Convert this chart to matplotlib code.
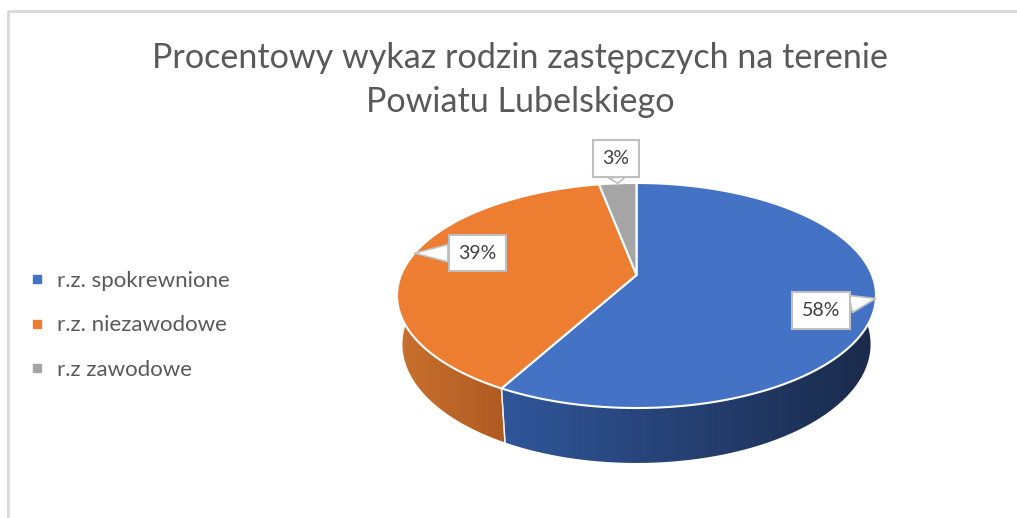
import numpy as np
import matplotlib
matplotlib.use("Agg")
import matplotlib.pyplot as plt
from matplotlib.patches import Polygon
from matplotlib.lines import Line2D
from matplotlib.colors import LinearSegmentedColormap

plt.rcParams['font.family'] = ['Lato', 'DejaVu Sans']

title = "Procentowy wykaz rodzin zastępczych na terenie\nPowiatu Lubelskiego"
categories = ["r.z. spokrewnione", "r.z. niezawodowe", "r.z zawodowe"]
values = [58, 39, 3]
top_colors = ["#4472C4", "#ED7D31", "#A5A5A5"]
side_colors = [("#30569A", "#1A2A4A"), ("#C9712F", "#B05A22"), ("#8A8A8A", "#6E6E6E")]

W, H = 1017, 518
fig = plt.figure(figsize=(W / 100, H / 100), dpi=100)
ax = fig.add_axes([0, 0, 1, 1])
ax.set_xlim(0, W)
ax.set_ylim(H, 0)
ax.axis("off")

# chart border
ax.plot([8, 8, W + 5], [H + 5, 11, 11], color="#D9D9D9", lw=2, solid_capstyle="butt")

# ---- 3D pie projection (perspective) ----
phi = np.radians(27.6)
Dcam = 4.86
box_x = (397, 876)
box_y = (183, 408)
target_depth = 55

def raw(t_deg, z=0.0):
    t = np.radians(np.asarray(t_deg, dtype=float))
    X, Y = np.cos(t), np.sin(t)
    w = Dcam + Y * np.cos(phi) - z * np.sin(phi)
    return X / w, (Y * np.sin(phi) + z * np.cos(phi)) / w

_tt = np.linspace(0, 360, 2001)
_rx, _ry = raw(_tt)
sx = (box_x[1] - box_x[0]) / (_rx.max() - _rx.min())
sy = (box_y[1] - box_y[0]) / (_ry.max() - _ry.min())
ox = box_x[0] - _rx.min() * sx
oy = box_y[0] + _ry.max() * sy

def proj(t_deg, z=0.0):
    a, b = raw(t_deg, z)
    return ox + a * sx, oy - b * sy

_hs = np.linspace(0.01, 1.5, 600)
_d = np.array([proj(270, -h)[1] - proj(270, 0)[1] for h in _hs])
thick = _hs[np.argmin(np.abs(_d - target_depth))]

def centre(z=0.0):
    w = Dcam - z * np.sin(phi)
    return ox, oy - (z * np.cos(phi) / w) * sy

total = float(sum(values))
fracs = [v / total for v in values]
starts, ends = [], []
a = 90.0
for f in fracs:
    starts.append(a)
    a -= f * 360.0
    ends.append(a)

# side walls (front half 180..360)
for i, (s, e) in enumerate(zip(starts, ends)):
    lo, hi = e % 360, s % 360
    if hi <= lo:
        hi += 360
    segs = []
    for shift in (0, 360):
        l2, h2 = max(lo - shift, 180), min(hi - shift, 360)
        if h2 > l2:
            segs.append((l2, h2))
    for seg_lo, seg_hi in segs:
        ts = np.linspace(seg_lo, seg_hi, 300)
        xt, yt = proj(ts, 0.0)
        xb, yb = proj(ts, -thick)
        pts = np.column_stack([np.concatenate([xt, xb[::-1]]),
                               np.concatenate([yt, yb[::-1]])])
        poly = Polygon(pts, closed=True, facecolor="none", edgecolor="none")
        ax.add_patch(poly)
        cmap = LinearSegmentedColormap.from_list("g%d" % i, list(side_colors[i]))
        grad = np.linspace(0, 1, 256).reshape(1, -1)
        im = ax.imshow(grad, cmap=cmap, aspect="auto",
                       extent=(pts[:, 0].min(), pts[:, 0].max(),
                               pts[:, 1].max() + 2, pts[:, 1].min() - 2),
                       interpolation="bilinear", zorder=2)
        im.set_clip_path(poly)
        for t in (seg_lo, seg_hi):
            if 180 < t < 360:
                x0, y0 = proj(t, 0.0)
                x1, y1 = proj(t, -thick)
                ax.plot([x0, x1], [y0, y1], color="white", lw=1, alpha=0.8, zorder=3)

ax.set_xlim(0, W)
ax.set_ylim(H, 0)

# top surface
cxp, cyp = centre(0.0)
for i, (s, e) in enumerate(zip(starts, ends)):
    ts = np.linspace(s, e, 300)
    xs, ys = proj(ts, 0.0)
    pts = np.column_stack([np.concatenate([[cxp], xs]), np.concatenate([[cyp], ys])])
    ax.add_patch(Polygon(pts, closed=True, facecolor=top_colors[i],
                         edgecolor="white", lw=1.5, joinstyle="round", zorder=4))

# data labels (callouts)
anchor_angles = [-12, 168, None]
box_shift = [(-55, 12), (63, 0), (-2, -25)]
for i, (s, e) in enumerate(zip(starts, ends)):
    mid = (s + e) / 2 if anchor_angles[i] is None else anchor_angles[i]
    px, py = proj(mid, 0.0)
    tx, ty = px + box_shift[i][0], py + box_shift[i][1]
    ax.annotate(f"{values[i] / total * 100:.0f}%", xy=(px, py), xytext=(tx, ty),
                textcoords="data", ha="center", va="center", fontsize=14,
                color="#404040", zorder=6,
                bbox=dict(boxstyle="square,pad=0.5", fc="white", ec="#BFBFBF", lw=1.5),
                arrowprops=dict(arrowstyle="wedge,tail_width=0.9,shrink_factor=0.5",
                                fc="white", ec="#BFBFBF", lw=1.2, shrinkA=0, shrinkB=0))

# title
ax.text(520, 80, title, ha="center", va="center", fontsize=24.6, color="#595959",
        linespacing=1.5)

# legend
handles = [Line2D([], [], marker="s", linestyle="", markersize=6,
                  markerfacecolor=c, markeredgecolor=c) for c in top_colors]
ax.legend(handles, categories, loc="center left", bbox_to_anchor=(0.021, 0.372),
          frameon=False, fontsize=16, labelcolor="#595959", handlelength=0.6,
          handletextpad=0.6, labelspacing=1.1, borderaxespad=0)

fig.savefig("out.png", dpi=100)
